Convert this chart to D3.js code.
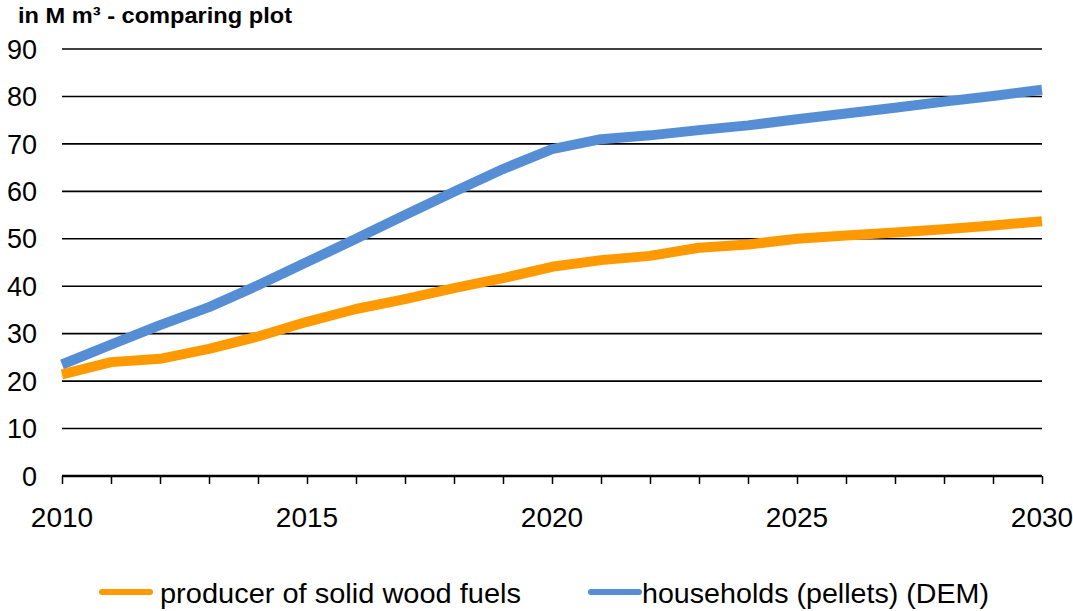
<!DOCTYPE html>
<html>
<head>
<meta charset="utf-8">
<script src="https://cdn.jsdelivr.net/npm/d3@7/dist/d3.min.js"></script>
<style>
  body { margin: 0; background: #fff; }
  svg { display: block; }
  text { font-family: "Liberation Sans", Arial, sans-serif; fill: #000; }
</style>
</head>
<body>
<div id="chart"></div>
<script>
  var years = d3.range(2010, 2031);
  var producer = [21.4, 24.0, 24.7, 26.8, 29.4, 32.5, 35.2, 37.3, 39.6, 41.7, 44.1,
                  45.5, 46.4, 48.1, 48.8, 50.0, 50.7, 51.3, 52.0, 52.8, 53.7];
  var households = [23.5, 27.7, 31.8, 35.6, 40.2, 45.1, 50.0, 55.0, 59.9, 64.7, 68.9,
                    71.0, 71.8, 72.9, 73.9, 75.2, 76.4, 77.6, 78.9, 80.1, 81.4];
  var yTicks = [0, 10, 20, 30, 40, 50, 60, 70, 80, 90];
  var xLabels = [2010, 2015, 2020, 2025, 2030];
  var seriesNames = ['producer of solid wood fuels', 'households (pellets) (DEM)'];
  var seriesColors = ['#FF9900', '#558ED5'];

  var width = 1073, height = 611;
  var margin = {left: 62, right: 31, top: 49, bottom: 135};

  var svg = d3.select('#chart').append('svg')
    .attr('width', width)
    .attr('height', height);

  var x = d3.scaleLinear().domain([2010, 2030]).range([margin.left, width - margin.right]);
  var y = d3.scaleLinear().domain([0, 90]).range([height - margin.bottom, margin.top]);

  // title
  svg.append('text')
    .attr('x', 18)
    .attr('y', 23)
    .attr('textLength', 274)
    .attr('lengthAdjust', 'spacingAndGlyphs')
    .style('font-size', '22px')
    .style('font-weight', 'bold')
    .text('in M m\u00b3 - comparing plot');

  // gridlines
  svg.append('g').selectAll('line')
    .data(yTicks.filter(function(d) { return d > 0; }))
    .enter().append('line')
    .attr('x1', x(2010))
    .attr('x2', x(2030))
    .attr('y1', function(d) { return y(d); })
    .attr('y2', function(d) { return y(d); })
    .attr('stroke', '#000')
    .attr('stroke-width', 1.6);

  // y labels
  svg.append('g').selectAll('text')
    .data(yTicks)
    .enter().append('text')
    .attr('x', 37)
    .attr('y', function(d) { return y(d); })
    .attr('dy', '0.36em')
    .attr('text-anchor', 'end')
    .style('font-size', '27px')
    .text(function(d) { return d; });

  // x axis
  var xAxis = d3.axisBottom(x)
    .tickValues(years)
    .tickSize(8)
    .tickFormat('');
  var gx = svg.append('g')
    .attr('transform', 'translate(0,' + y(0) + ')')
    .call(xAxis);
  gx.select('.domain').attr('stroke', '#000').attr('stroke-width', 2.5).attr('d', 'M' + x(2010) + ',0H' + x(2030));
  gx.selectAll('.tick line').attr('stroke', '#000').attr('stroke-width', 1.5);

  svg.append('g').selectAll('text')
    .data(xLabels)
    .enter().append('text')
    .attr('x', function(d) { return x(d); })
    .attr('y', 527)
    .attr('text-anchor', 'middle')
    .style('font-size', '28px')
    .text(function(d) { return d; });

  // lines
  var line = d3.line()
    .x(function(d, i) { return x(years[i]); })
    .y(function(d) { return y(d); });

  [households, producer].forEach(function(values, k) {
    svg.append('path')
      .datum(values)
      .attr('d', line)
      .attr('fill', 'none')
      .attr('stroke', k === 0 ? seriesColors[1] : seriesColors[0])
      .attr('stroke-width', 10)
      .attr('stroke-linejoin', 'round');
  });

  // legend
  var legendItems = [
    {name: seriesNames[0], color: seriesColors[0], x: 100, tx: 60, len: 361},
    {name: seriesNames[1], color: seriesColors[1], x: 589, tx: 53, len: 347}
  ];
  var legend = svg.append('g').selectAll('g')
    .data(legendItems)
    .enter().append('g')
    .attr('transform', function(d) { return 'translate(' + d.x + ',592)'; });
  legend.append('line')
    .attr('x1', 2).attr('x2', 50)
    .attr('stroke', function(d) { return d.color; })
    .attr('stroke-width', 6)
    .attr('stroke-linecap', 'round');
  legend.append('text')
    .attr('x', function(d) { return d.tx; })
    .attr('y', 11)
    .attr('textLength', function(d) { return d.len; })
    .attr('lengthAdjust', 'spacingAndGlyphs')
    .style('font-size', '28px')
    .text(function(d) { return d.name; });
</script>
</body>
</html>
